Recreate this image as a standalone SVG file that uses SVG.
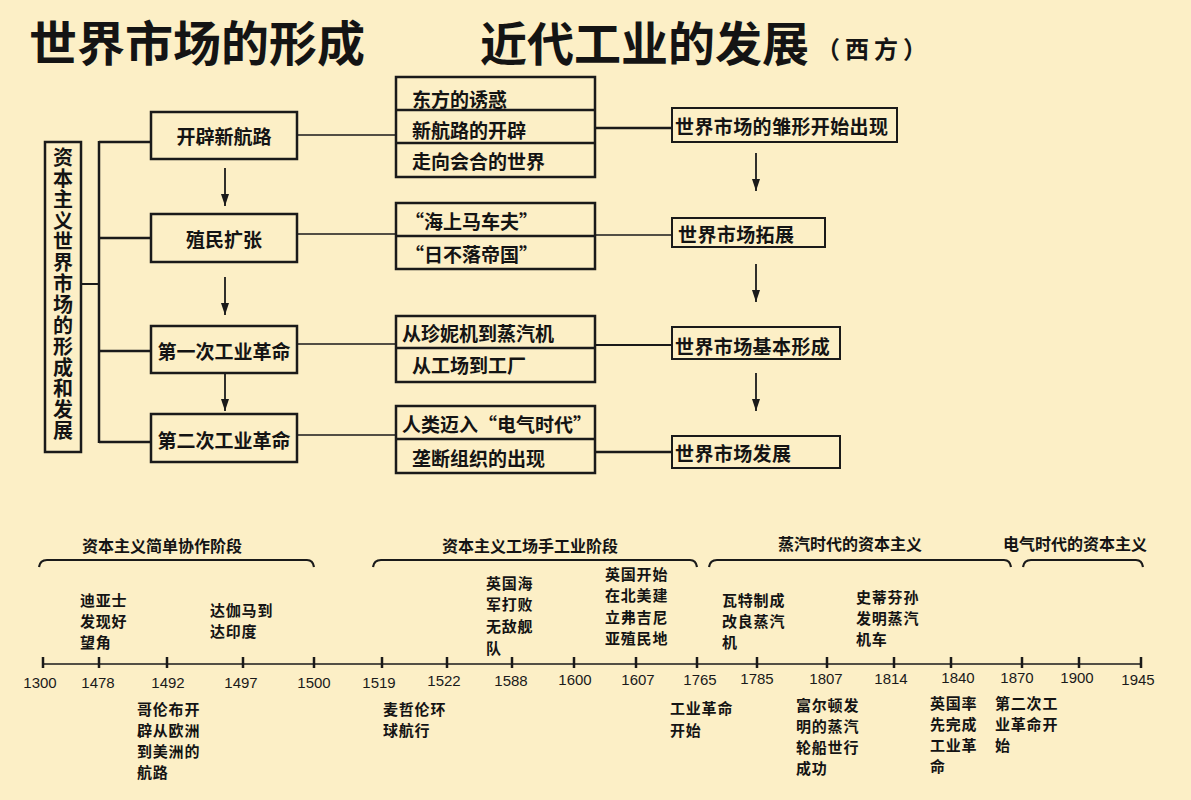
<svg xmlns="http://www.w3.org/2000/svg" width="1191" height="800" viewBox="0 0 1191 800">
<defs>
<style>
.bg{fill:#fcefc6}
.box{fill:none;stroke:#1a1a1a;stroke-width:2.5}
.rbox{fill:none;stroke:#1a1a1a;stroke-width:2}
.t{font-family:'Noto Sans CJK SC','Noto Sans CJK JP',sans-serif;font-weight:700;fill:#141414}
.n19{font-size:19px;dominant-baseline:central}
.ev{font-size:15px;letter-spacing:0.8px;dominant-baseline:central}
.yr{font-family:'Liberation Sans',Arial,sans-serif;font-size:15px;fill:#1a1a1a;text-anchor:middle}
.ln{stroke:#1a1a1a;fill:none}
.tick{stroke:#1a1a1a;stroke-width:2.5}
.brace{stroke:#1a1a1a;stroke-width:2.2;fill:none}
</style>
<marker id="arr" viewBox="0 0 12 8" refX="12" refY="4" markerWidth="12" markerHeight="8" markerUnits="userSpaceOnUse" orient="auto">
<path d="M0,0 L12,4 L0,8 z" fill="#1a1a1a"/>
</marker>
</defs>
<rect class="bg" x="0" y="0" width="1191" height="800"/>

<g id="titles">
<text class="t" x="29" y="61" font-size="48">世界市场的形成</text>
<text class="t" x="480" y="61" font-size="47">近代工业的发展</text>
<text class="t" x="816" y="58" font-size="24" letter-spacing="5">（西方）</text>
</g>

<g id="connectors">
<path class="ln" stroke-width="2" d="M81,284 H99"/>
<path class="ln" stroke-width="2.5" d="M99,141 V443"/>
<path class="ln" stroke-width="2.5" d="M99,142 H151 M99,238 H151 M99,351 H151 M99,442 H151"/>
<path class="ln" stroke-width="1.8" d="M225,168 V206" marker-end="url(#arr)"/>
<path class="ln" stroke-width="1.8" d="M225,277 V315" marker-end="url(#arr)"/>
<path class="ln" stroke-width="1.8" d="M225,374 V411" marker-end="url(#arr)"/>
<path class="ln" stroke-width="1.5" d="M297,135 H396 M297,234 H396 M297,344 H396 M297,435 H396"/>
<path class="ln" stroke-width="2.5" d="M595,128 H672"/>
<path class="ln" stroke-width="1.5" d="M595,235 H672"/>
<path class="ln" stroke-width="2" d="M595,345 H672"/>
<path class="ln" stroke-width="2.5" d="M595,452 H672"/>
<path class="ln" stroke-width="1.8" d="M756,153 V191" marker-end="url(#arr)"/>
<path class="ln" stroke-width="1.8" d="M756,264 V302" marker-end="url(#arr)"/>
<path class="ln" stroke-width="1.8" d="M756,373 V411" marker-end="url(#arr)"/>
</g>

<g id="root">
<rect class="box" x="45" y="142" width="36" height="310"/>
<text class="t" x="63" y="147" font-size="20" letter-spacing="1" style="writing-mode:vertical-rl">资本主义世界市场的形成和发展</text>
</g>

<g id="n-route">
<rect class="box" x="151" y="112" width="146" height="47"/>
<text class="t n19" x="224" y="135" text-anchor="middle">开辟新航路</text>
</g>
<g id="n-colony">
<rect class="box" x="151" y="214" width="146" height="48"/>
<text class="t n19" x="224" y="238" text-anchor="middle">殖民扩张</text>
</g>
<g id="n-ir1">
<rect class="box" x="151" y="326" width="146" height="47"/>
<text class="t n19" x="224" y="350" text-anchor="middle">第一次工业革命</text>
</g>
<g id="n-ir2">
<rect class="box" x="151" y="414" width="146" height="48"/>
<text class="t n19" x="224" y="439" text-anchor="middle">第二次工业革命</text>
</g>

<g id="m-route">
<rect class="box" x="396" y="77" width="199" height="100"/>
<path class="ln" stroke-width="2.5" d="M396,110 H595 M396,143 H595"/>
<text class="t n19" x="412" y="98">东方的诱惑</text>
<text class="t n19" x="412" y="129">新航路的开辟</text>
<text class="t n19" x="412" y="160">走向会合的世界</text>
</g>
<g id="m-colony">
<rect class="box" x="396" y="203" width="199" height="66"/>
<path class="ln" stroke-width="2.5" d="M396,236 H595"/>
<text class="t n19" x="405" y="220">“海上马车夫”</text>
<text class="t n19" x="405" y="253">“日不落帝国”</text>
</g>
<g id="m-ir1">
<rect class="box" x="396" y="316" width="199" height="66"/>
<path class="ln" stroke-width="2.5" d="M396,348 H595"/>
<text class="t n19" x="402" y="332">从珍妮机到蒸汽机</text>
<text class="t n19" x="412" y="364">从工场到工厂</text>
</g>
<g id="m-ir2">
<rect class="box" x="396" y="406" width="199" height="67"/>
<path class="ln" stroke-width="2.5" d="M396,439 H595"/>
<text class="t n19" x="402" y="423">人类迈入“电气时代”</text>
<text class="t n19" x="412" y="457">垄断组织的出现</text>
</g>

<g id="r-a">
<rect class="rbox" x="672" y="108" width="225" height="34"/>
<text class="t n19" x="675" y="125" letter-spacing="0.4">世界市场的雏形开始出现</text>
</g>
<g id="r-b">
<rect class="rbox" x="672" y="218" width="153" height="29"/>
<text class="t n19" x="678" y="233" letter-spacing="0.4">世界市场拓展</text>
</g>
<g id="r-c">
<rect class="rbox" x="672" y="327" width="168" height="32"/>
<text class="t n19" x="675" y="345" letter-spacing="0.4">世界市场基本形成</text>
</g>
<g id="r-d">
<rect class="rbox" x="672" y="436" width="168" height="32"/>
<text class="t n19" x="675" y="452" letter-spacing="0.4">世界市场发展</text>
</g>

<g id="periods">
<path class="brace" d="M39,567 Q40,560 47,560 H307 Q313,560 314,567"/>
<text class="t" x="162" y="545" font-size="16" text-anchor="middle" dominant-baseline="central">资本主义简单协作阶段</text>
<path class="brace" d="M373,567 Q374,560 381,560 H690 Q696,560 697,567"/>
<text class="t" x="530" y="545" font-size="16" text-anchor="middle" dominant-baseline="central">资本主义工场手工业阶段</text>
<path class="brace" d="M709,567 Q710,560 717,560 H1004 Q1010,560 1011,567"/>
<text class="t" x="850" y="543" font-size="16" text-anchor="middle" dominant-baseline="central">蒸汽时代的资本主义</text>
<path class="brace" d="M1023,567 Q1024,560 1031,560 H1136 Q1142,560 1143,567"/>
<text class="t" x="1075" y="543" font-size="16" text-anchor="middle" dominant-baseline="central">电气时代的资本主义</text>
</g>

<g id="axis">
<path class="ln" stroke-width="1.6" d="M43,664 H1141"/>
<path class="tick" d="M43,657 V668 M99,657 V668 M167,657 V668 M243,657 V668 M314,657 V668 M382,657 V668 M447,657 V668 M512,657 V668 M574,657 V668 M636,657 V668 M697,657 V668 M757,657 V668 M827,657 V668 M894,657 V668 M951,657 V668 M1022,657 V668 M1079,657 V668 M1141,657 V668"/>
<text class="yr" x="40" y="688">1300</text>
<text class="yr" x="98" y="688">1478</text>
<text class="yr" x="168" y="688">1492</text>
<text class="yr" x="241" y="688">1497</text>
<text class="yr" x="314" y="688">1500</text>
<text class="yr" x="379" y="688">1519</text>
<text class="yr" x="444" y="686">1522</text>
<text class="yr" x="511" y="686">1588</text>
<text class="yr" x="575" y="685">1600</text>
<text class="yr" x="638" y="685">1607</text>
<text class="yr" x="700" y="685">1765</text>
<text class="yr" x="757" y="684">1785</text>
<text class="yr" x="826" y="684">1807</text>
<text class="yr" x="891" y="684">1814</text>
<text class="yr" x="958" y="683">1840</text>
<text class="yr" x="1017" y="683">1870</text>
<text class="yr" x="1077" y="683">1900</text>
<text class="yr" x="1138" y="685">1945</text>
</g>

<g id="events">
<text class="t ev"><tspan x="80" y="599">迪亚士</tspan><tspan x="80" y="620">发现好</tspan><tspan x="80" y="641">望角</tspan></text>
<text class="t ev"><tspan x="210" y="609">达伽马到</tspan><tspan x="210" y="630">达印度</tspan></text>
<text class="t ev"><tspan x="486" y="582">英国海</tspan><tspan x="486" y="603">军打败</tspan><tspan x="486" y="625">无敌舰</tspan><tspan x="486" y="647">队</tspan></text>
<text class="t ev"><tspan x="605" y="573">英国开始</tspan><tspan x="605" y="594">在北美建</tspan><tspan x="605" y="616">立弗吉尼</tspan><tspan x="605" y="637">亚殖民地</tspan></text>
<text class="t ev"><tspan x="722" y="599">瓦特制成</tspan><tspan x="722" y="620">改良蒸汽</tspan><tspan x="722" y="641">机</tspan></text>
<text class="t ev"><tspan x="856" y="596">史蒂芬孙</tspan><tspan x="856" y="617">发明蒸汽</tspan><tspan x="856" y="638">机车</tspan></text>
<text class="t ev"><tspan x="137" y="708">哥伦布开</tspan><tspan x="137" y="729">辟从欧洲</tspan><tspan x="137" y="750">到美洲的</tspan><tspan x="137" y="771">航路</tspan></text>
<text class="t ev"><tspan x="383" y="708">麦哲伦环</tspan><tspan x="383" y="729">球航行</tspan></text>
<text class="t ev"><tspan x="670" y="707">工业革命</tspan><tspan x="670" y="729">开始</tspan></text>
<text class="t ev"><tspan x="796" y="704">富尔顿发</tspan><tspan x="796" y="725">明的蒸汽</tspan><tspan x="796" y="746">轮船世行</tspan><tspan x="796" y="767">成功</tspan></text>
<text class="t ev"><tspan x="930" y="702">英国率</tspan><tspan x="930" y="723">先完成</tspan><tspan x="930" y="744">工业革</tspan><tspan x="930" y="765">命</tspan></text>
<text class="t ev"><tspan x="995" y="702">第二次工</tspan><tspan x="995" y="723">业革命开</tspan><tspan x="995" y="744">始</tspan></text>
</g>
</svg>
